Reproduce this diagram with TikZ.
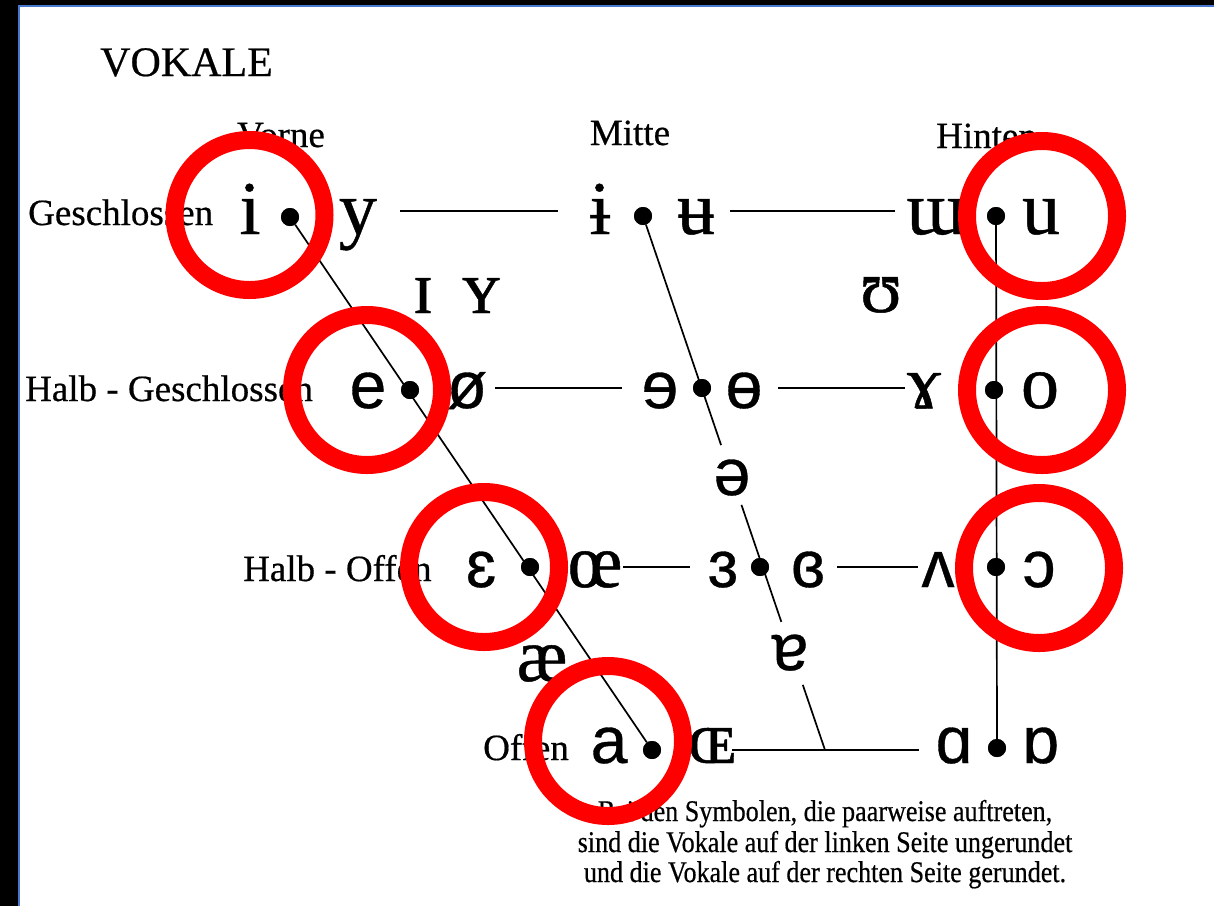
\documentclass[tikz,border=0pt]{standalone}
\usepackage{fontspec}
\usepackage{graphicx}
\setmainfont[FakeBold=0.5]{Liberation Serif}
\newfontfamily\ipasans[FakeBold=0.5]{Liberation Sans}
\newfontfamily\ipaserif[FakeBold=0.6]{Liberation Serif}
\usetikzlibrary{calc}
\definecolor{frameblue}{RGB}{70,120,205}
\definecolor{ringred}{RGB}{255,0,0}
\begin{document}
\begin{tikzpicture}[x=1pt,y=-1pt,
  lab/.style={anchor=base west, inner sep=0pt, font=\fontsize{37}{44}\selectfont},
  labc/.style={anchor=base, inner sep=0pt, font=\fontsize{37}{44}\selectfont},
  sv/.style={anchor=base, inner sep=0pt, font=\ipaserif\fontsize{76}{80}\selectfont},
  ss/.style={anchor=base, inner sep=0pt, font=\ipasans\fontsize{66}{70}\selectfont},
  note/.style={anchor=base, inner sep=0pt, font=\fontsize{30}{34}\selectfont},
  vdot/.style={circle, fill=black, inner sep=0pt, minimum size=18pt},
  hline/.style={line width=2pt},
  sline/.style={line width=1.7pt},
  ring/.style={draw=ringred, line width=18pt},
]
% frame
\fill[black] (0,0) rectangle (1214,906);
\fill[white] (17.5,4.5) rectangle (1214,906);
\fill[frameblue] (17.5,4.5) rectangle (20,906);
\fill[frameblue] (17.5,4.5) rectangle (1214,7);
\useasboundingbox (0,0) rectangle (1214,906);

% labels
\node[lab, font=\fontsize{42}{48}\selectfont] (title) at (100,76) {VOKALE};
\node[labc] (vorne) at (281,147) {Vorne};
\node[labc] (mitte) at (630,145) {Mitte};
\node[lab] (hinten) at (936,148) {Hinten};
\node[lab] (lgeschl) at (28,225) {Geschlossen};
\node[lab] (lhalbg) at (25,401) {Halb - Geschlossen};
\node[lab] (lhalbo) at (243,581) {Halb - Offen};
\node[lab] (loffen) at (483,760) {Offen};

% row 1
\node[sv] (s-i) at (250,234) {i};
\node[sv] (s-y) at (358,234) {y};
\node[sv] (s-bi) at (600,234) {ɨ};
\node[sv] (s-bu) at (696,234) {ʉ};
\node[sv] (s-mw) at (936,234) {ɯ};
\node[sv] (s-u) at (1041,234) {u};
\node[vdot] (d-i) at (290,217) {};
\node[vdot] (d-bi) at (643,216) {};
\node[vdot] (d-u) at (996,216) {};
% near-close
\node[sv] (s-ci) at (423,313) {ɪ};
\node[sv] (s-cy) at (481,313) {ʏ};
\node[sv] (s-hu) at (881,312) {ʊ};
% row 2
\node[ss] (s-e) at (368,408) {e};
\node[ss] (s-oe) at (467,408) {ø};
\node[ss] (s-re) at (660,408) {ɘ};
\node[ss] (s-bo) at (744,408) {ɵ};
\node[sv] (s-ga) at (924,408) {ɤ};
\node[sv] (s-o) at (1040,408) {o};
\node[vdot] (d-e) at (410,390) {};
\node[vdot] (d-re) at (702,388) {};
\node[vdot] (d-o) at (994,390) {};
% schwa
\node[ss] (s-schwa) at (732,495) {ə};
% row 3
\node[ss] (s-eps) at (481,587) {ɛ};
\node[sv] (s-oel) at (595,587) {œ};
\node[ss] (s-reps) at (723,587) {ɜ};
\node[ss] (s-cre) at (808,587) {ɞ};
\node[ss] (s-wv) at (938,587) {ʌ};
\node[ss] (s-oo) at (1039,587) {ɔ};
\node[vdot] (d-eps) at (530,567) {};
\node[vdot] (d-reps) at (760,567) {};
\node[vdot] (d-oo) at (996,567) {};
% near-open
\node[sv] (s-ae) at (542,681) {æ};
\node[ss] (s-ta) at (790,670) {ɐ};
% row 4
\node[ss] (s-a) at (609,763) {a};
\node[sv] (s-oea) at (712,763) {ɶ};
\node[ss] (s-sa) at (954,763) {ɑ};
\node[ss] (s-ra) at (1041,763) {ɒ};
\node[vdot] (d-a) at (652,750) {};
\node[vdot] (d-sa) at (997,748) {};

% line ends
\coordinate (h1a) at (400,211); \coordinate (h1b) at (558,211);
\coordinate (h1c) at (730,211); \coordinate (h1d) at (895,211);
\coordinate (h2a) at (495,388); \coordinate (h2b) at (622,388);
\coordinate (h2c) at (778,388); \coordinate (h2d) at (905,388);
\coordinate (h3a) at (623,567); \coordinate (h3b) at (690,567);
\coordinate (h3c) at (837,567); \coordinate (h3d) at (918,567);
\coordinate (h4a) at (732,750); \coordinate (h4d) at (919,750);
\coordinate (j) at (825,750);

\draw[hline] (h1a) -- (h1b);
\draw[hline] (h1c) -- (h1d);
\draw[hline] (h2a) -- (h2b);
\draw[hline] (h2c) -- (h2d);
\draw[hline] (h3a) -- (h3b);
\draw[hline] (h3c) -- (h3d);
\draw[hline] (h4a) -- (j) -- (h4d);

\draw[sline] (d-i) -- (d-a);
\draw[sline] (d-u) -- (d-sa);
\draw[sline] (d-bi) -- ($(d-bi)!0.429!(j)$);
\draw[sline] ($(d-bi)!0.541!(j)$) -- ($(d-bi)!0.760!(j)$);
\draw[sline] ($(d-bi)!0.878!(j)$) -- (j);

% redraw dots on top
\foreach \d in {d-i,d-bi,d-u,d-e,d-re,d-o,d-eps,d-reps,d-oo,d-a,d-sa}
  \fill (\d) circle[radius=9];

% note
\node[note] (n1) at (825,821) {\scalebox{0.87}[1]{Bei den Symbolen, die paarweise auftreten,}};
\node[note] (n2) at (825,852) {\scalebox{0.87}[1]{sind die Vokale auf der linken Seite ungerundet}};
\node[note] (n3) at (825,882) {\scalebox{0.87}[1]{und die Vokale auf der rechten Seite gerundet.}};

% red rings
\draw[ring] (249.5,215) circle[radius=75];
\draw[ring] (367,390) circle[radius=75];
\draw[ring] (484,567) circle[radius=75];
\draw[ring] (608,741) circle[radius=75];
\draw[ring] (1042,216) circle[radius=75];
\draw[ring] (1042,390) circle[radius=75];
\draw[ring] (1039,568) circle[radius=75];
\end{tikzpicture}
\end{document}
